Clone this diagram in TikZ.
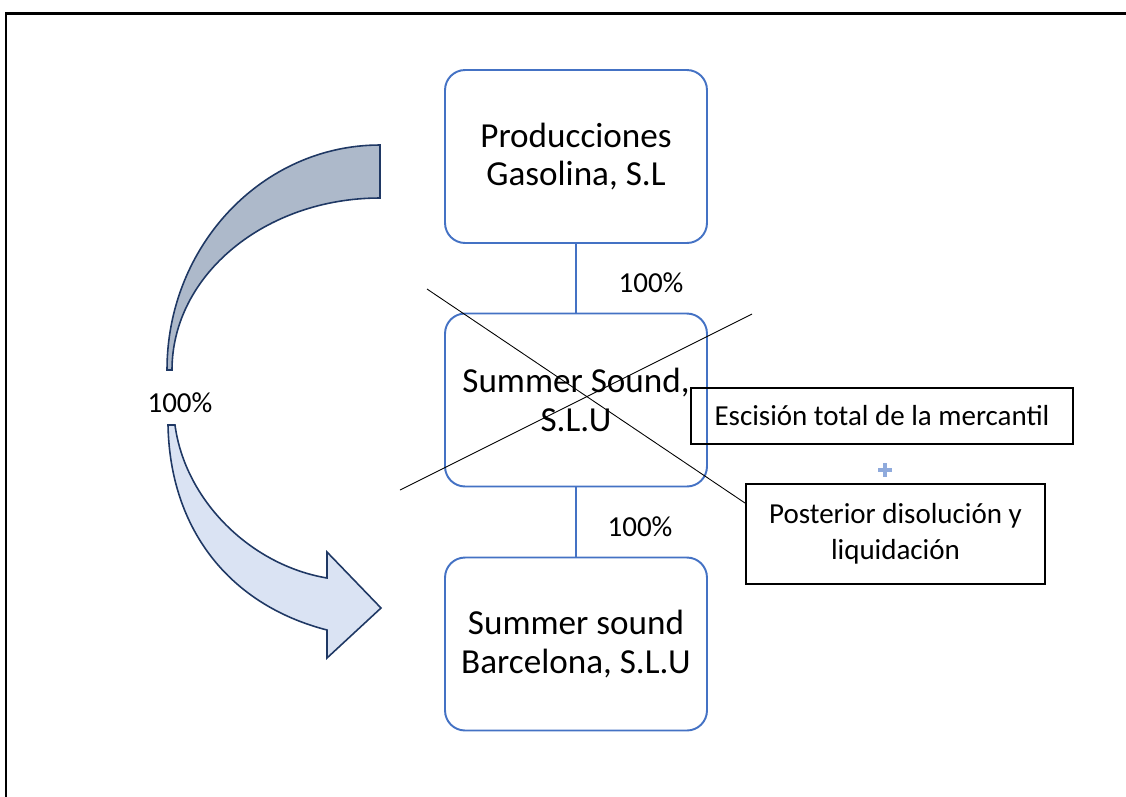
\documentclass[tikz,border=0pt]{standalone}
\usepackage{fontspec}
\setmainfont{Carlito}
\usetikzlibrary{positioning}

\definecolor{boxblue}{HTML}{4472C4}
\definecolor{navy}{HTML}{1F3864}
\definecolor{arrowgray}{HTML}{ADB9CA}
\definecolor{arrowblue}{HTML}{DAE3F3}
\definecolor{plusblue}{HTML}{8FAADC}

\begin{document}
\begin{tikzpicture}[x = 0.02cm, y = -0.02cm,
  company/.style = {draw = boxblue, line width = 1.1pt, rounded corners = 0.4cm,
    minimum width = 5.24cm, minimum height = 3.46cm, align = center,
    font = \fontsize{20}{22}\selectfont},
  note/.style = {draw = black, line width = 1pt, align = center,
    font = \fontsize{16.5}{20.4}\selectfont},
  share/.style = {font = \fontsize{16.5}{19}\selectfont},
  link/.style = {draw = boxblue, line width = 1.1pt}]
\useasboundingbox (0, 0) rectangle (1126, 796);
\draw[line width = 1.7pt] (6, 820) -- (6, 13) -- (1140, 13);

% big curved arrow
\draw[navy, fill = arrowgray, line width = 0.9pt] (380, 145)
  arc[start angle = -90, end angle = -180, x radius = 213, y radius = 225]
  -- (172, 370)
  arc[start angle = -180, end angle = -90, x radius = 208, y radius = 172]
  -- cycle;
\draw[navy, fill = arrowblue, line width = 0.9pt] (168, 425)
  .. controls (170, 530) and (230, 605) .. (327, 630)
  -- (327, 658) -- (381, 608) -- (327, 552) -- (327, 578)
  .. controls (250, 565) and (185, 500) .. (175, 425) -- cycle;
\node[share] (arrowpct) at (180, 403) {100\%};

% companies
\node[company] (gasolina) at (576, 156.5) {Producciones\\Gasolina, S.L};
\node[company] (summer) at (576, 400) {Summer Sound,\\S.L.U};
\node[company] (barcelona) at (576, 644) {Summer sound\\Barcelona, S.L.U};
\draw[link] (gasolina) -- (summer);
\draw[link] (summer) -- (barcelona);
\node[share] (pcttop) at (651, 283) {100\%};
\node[share] (pctbottom) at (640, 527) {100\%};

% operation notes
\node[note, minimum width = 7.64cm, minimum height = 1.12cm] (escision) at (882, 416)
  {Escisión total de la mercantil};
\node[note, minimum width = 5.98cm, minimum height = 2cm] (posterior) at (895.5, 534)
  {Posterior disolución y\\liquidación};
\draw[plusblue, line width = 2.4pt] (878, 470) -- (892, 470) (885, 463) -- (885, 477);

% crossed out
\coordinate (crossA) at (427, 289);
\coordinate (crossB) at (745, 503);
\coordinate (crossC) at (400, 490);
\coordinate (crossD) at (752, 314);
\draw[line width = 0.5pt] (crossA) -- (crossB);
\draw[line width = 0.5pt] (crossC) -- (crossD);
\end{tikzpicture}
\end{document}
